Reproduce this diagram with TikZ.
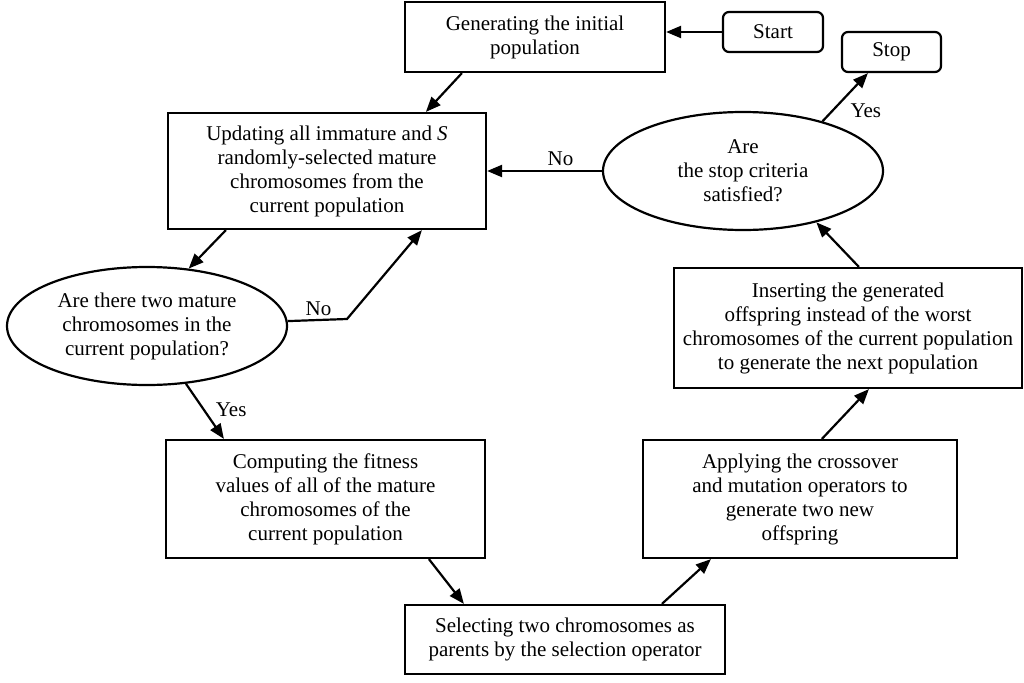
\documentclass[tikz,border=0pt]{standalone}
\usepackage{fontspec}
\setmainfont{Liberation Serif}
\usetikzlibrary{shapes.geometric,arrows.meta}
\begin{document}
\begin{tikzpicture}[x=1pt,y=-1pt,
  every node/.style={font=\fontsize{21}{24}\selectfont, align=center, inner sep=0pt},
  procbox/.style={draw, line width=2.2pt, rectangle},
  termbox/.style={draw, line width=2.2pt, rectangle, rounded corners=6pt},
  decis/.style={draw, line width=2.2pt, ellipse},
  lbl/.style={font=\fontsize{21}{24}\selectfont},
  conn/.style={line width=2.2pt, -{Triangle[length=15pt,width=12pt]}}
]
\useasboundingbox (0,0) rectangle (1024,682);
\fill[white] (0,0) rectangle (1024,682);

\node[procbox, minimum width=260pt, minimum height=70pt] (gen) at (535,37)
  {Generating the initial\\population};
\node[termbox, minimum width=100pt, minimum height=40pt] (start) at (773,32) {Start};
\node[termbox, minimum width=99pt, minimum height=40pt] (stop) at (891.5,52) {Stop};
\node[procbox, minimum width=318pt, minimum height=116pt] (upd) at (327,171)
  {Updating all immature and \textit{S}\\randomly-selected mature\\chromosomes from the\\current population};
\node[decis, minimum width=280pt, minimum height=118pt] (stopq) at (743,171)
  {Are\\the stop criteria\\satisfied?};
\node[decis, minimum width=280pt, minimum height=118pt] (areq) at (147,326)
  {Are there two mature\\chromosomes in the\\current population?};
\node[procbox, minimum width=319pt, minimum height=118pt] (comp) at (325.5,499)
  {Computing the fitness\\values of all of the mature\\chromosomes of the\\current population};
\node[procbox, minimum width=320pt, minimum height=69pt] (sel) at (565,639.5)
  {Selecting two chromosomes as\\parents by the selection operator};
\node[procbox, minimum width=314pt, minimum height=118pt] (app) at (800,499)
  {Applying the crossover\\and mutation operators to\\generate two new\\offspring};
\node[procbox, minimum width=348pt, minimum height=120pt] (ins) at (848,328)
  {Inserting the generated\\offspring instead of the worst\\chromosomes of the current population\\to generate the next population};

\coordinate (bend) at (347,319);

\draw[conn] (start.west) -- (gen.east |- start.west);
\draw[conn] ([xshift=58pt]gen.south west) -- ([xshift=259pt]upd.north west);
\draw[conn] (stopq.west) -- (upd.east |- stopq.west) node[lbl, pos=0.36, above=4pt] {No};
\draw[conn] ([xshift=59pt]upd.south west) -- (areq.54);
\draw[conn] (areq.2.9) -- (bend) node[lbl, pos=0.52, above=3pt] {No} -- ([xshift=255pt]upd.south west);
\draw[conn] (areq.-56) -- ([xshift=59pt]comp.north west) node[lbl, pos=0.47, right=11pt] {Yes};
\draw[conn] ([xshift=264pt]comp.south west) -- ([xshift=60pt]sel.north west);
\draw[conn] ([xshift=258pt]sel.north west) -- ([xshift=69pt]app.south west);
\draw[conn] ([xshift=180pt]app.north west) -- ([xshift=196pt]ins.south west);
\draw[conn] ([xshift=186pt]ins.north west) -- (stopq.-35);
\draw[conn] (stopq.32) -- ([xshift=27pt]stop.south west) node[lbl, pos=0.22, right=17pt] {Yes};
\end{tikzpicture}
\end{document}
